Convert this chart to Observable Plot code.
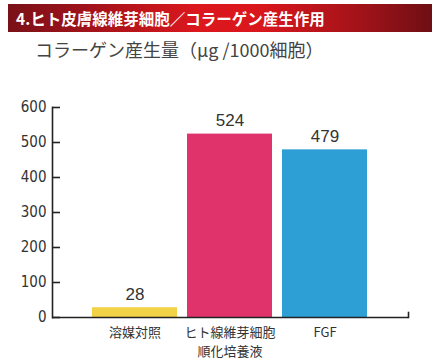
<!DOCTYPE html>
<html><head><meta charset="utf-8">
<script src="https://cdn.jsdelivr.net/npm/d3@7"></script>
<script src="https://cdn.jsdelivr.net/npm/@observablehq/plot@0.6"></script>
<style>
body{margin:0;background:#fff;width:441px;height:362px;overflow:hidden;position:relative;font-family:"Noto Sans CJK JP","Noto Sans",sans-serif}
#hdr{position:absolute;left:8px;top:4px;width:424px;height:28px;background:linear-gradient(to right,#7a1118 0%,#a8131a 22%,#dc181e 45%,#d8171d 60%,#a51319 82%,#6e0f14 100%);color:#fff;font-weight:bold;font-size:15.5px;line-height:28px;padding-left:8px;box-sizing:border-box;white-space:nowrap}
#sub{position:absolute;left:35px;top:36px;font-size:18px;color:#444;line-height:26px;white-space:nowrap}
#chart{position:absolute;left:0;top:70px}
</style></head><body>
<div id="hdr"></div><div id="sub"></div><div id="chart"></div>
<script>
const headerTitle = "4.ヒト皮膚線維芽細胞／コラーゲン産生作用";
const subtitle = "コラーゲン産生量（μg /1000細胞）";
const categories = ["溶媒対照", "ヒト線維芽細胞\n順化培養液", "FGF"];
const values = [28, 524, 479];
const colors = ["#f2d348", "#e0336b", "#2d9fd4"];
const yTicks = [0, 100, 200, 300, 400, 500, 600];

document.getElementById("hdr").textContent = headerTitle;
document.getElementById("sub").textContent = subtitle;

const data = categories.map((c, i) => ({category: c, value: values[i]}));

const plot = Plot.plot({
  width: 441, height: 292,
  marginTop: 37, marginBottom: 45, marginLeft: 52, marginRight: 33,
  style: {background: "transparent", fontFamily: "'Noto Sans CJK JP', sans-serif"},
  x: {domain: categories, paddingInner: 0.105, paddingOuter: 0.426},
  y: {domain: [0, 600]},
  color: {domain: categories, range: colors},
  marks: [
    Plot.barY(data, {x: "category", y: "value", fill: "category"}),
    Plot.text(data, {x: "category", y: "value", text: d => String(d.value), lineAnchor: "bottom", dy: -8, fontSize: 17, fill: "#333", fontFamily: "'Liberation Sans', sans-serif"}),
    Plot.axisY({ticks: yTicks, tickSize: 0, tickPadding: 6, fontSize: 15, fill: "#333", fontFamily: "'Liberation Sans Narrow', 'DejaVu Sans Condensed', sans-serif", label: null}),
    Plot.tickY(yTicks, {y: d => d, stroke: "#222", strokeWidth: 1.6, insetRight: 348}),
    Plot.axisX({tickSize: 0, tickPadding: 7, fontSize: 13, lineHeight: 1.4, fill: "#333", label: null}),
    Plot.frame({anchor: "left", stroke: "#222", strokeWidth: 1.6}),
    Plot.ruleY([0], {stroke: "#222", strokeWidth: 1.6}),
    Plot.frame({anchor: "right", insetTop: 205, stroke: "#222", strokeWidth: 1.6})
  ]
});
document.getElementById("chart").appendChild(plot);
</script>
</body></html>
